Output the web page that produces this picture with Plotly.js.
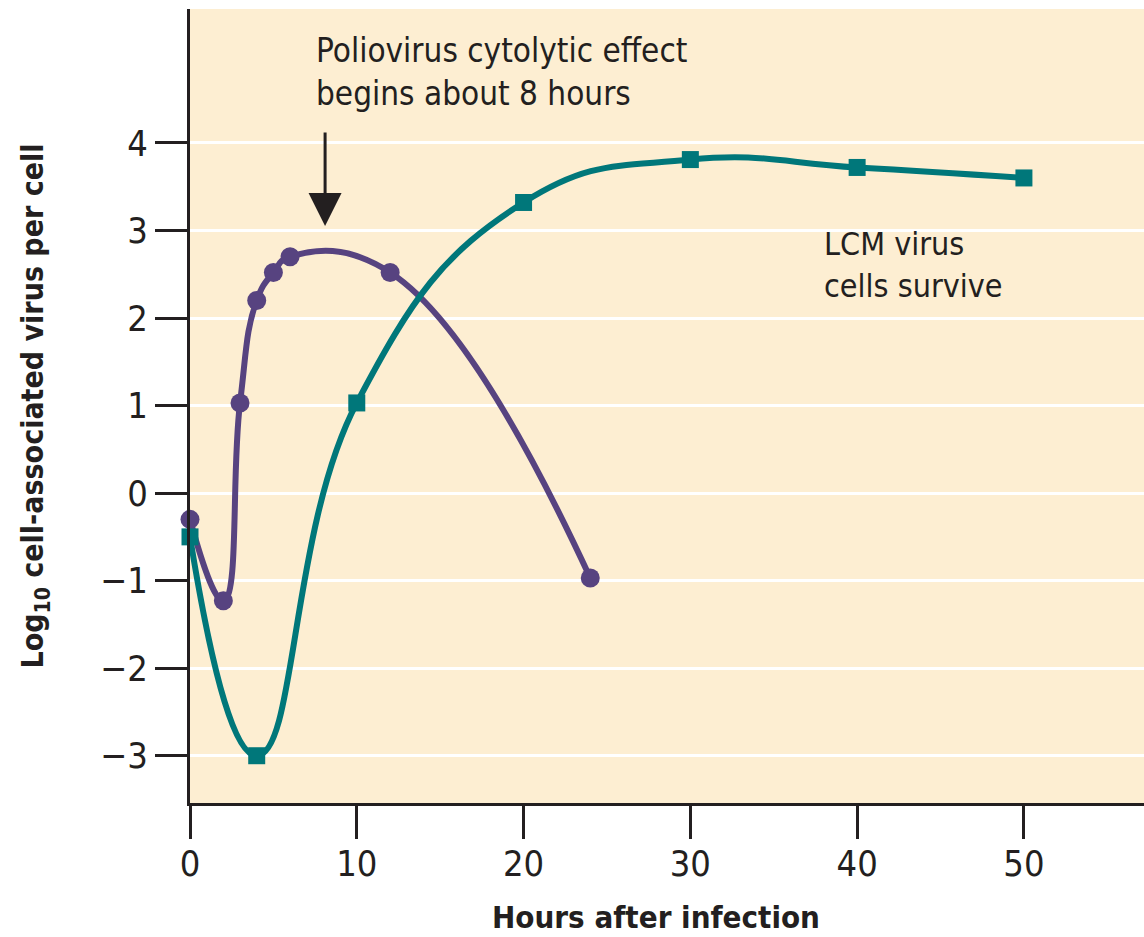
<!DOCTYPE html>
<html>
<head>
<meta charset="utf-8">
<script src="https://cdn.plot.ly/plotly-3.0.1.min.js"></script>
<style>html,body{margin:0;padding:0;background:#fff;}#chart{width:1144px;height:937px;}</style>
</head>
<body>
<div id="chart"></div>
<script>
// Data
const polioHours = [0, 2, 3, 4, 5, 6, 12, 24];
const polioLog = [-0.3, -1.23, 1.03, 2.2, 2.52, 2.7, 2.52, -0.97];
const lcmHours = [0, 4, 10, 20, 30, 40, 50];
const lcmLog = [-0.5, -3.0, 1.03, 3.32, 3.81, 3.72, 3.6];
const xTicks = [0, 10, 20, 30, 40, 50];
const yTicks = [-3, -2, -1, 0, 1, 2, 3, 4];

const FONT = '"Liberation Sans Narrow", "Arial Narrow", "DejaVu Sans Condensed", sans-serif';
const PURPLE = '#574380';
const TEAL = '#00777a';
const INK = '#231f20';

const traces = [
  {
    x: polioHours, y: polioLog, type: 'scatter', mode: 'lines+markers',
    line: {color: PURPLE, width: 6, shape: 'spline', smoothing: 1.3},
    marker: {color: PURPLE, size: 19, symbol: 'circle'},
    cliponaxis: false, hoverinfo: 'skip'
  },
  {
    x: lcmHours, y: lcmLog, type: 'scatter', mode: 'lines+markers',
    line: {color: TEAL, width: 6, shape: 'spline', smoothing: 1.3},
    marker: {color: TEAL, size: 17, symbol: 'square'},
    cliponaxis: false, hoverinfo: 'skip'
  }
];

const layout = {
  width: 1144, height: 937,
  margin: {l: 190, r: 0, t: 9, b: 134},
  paper_bgcolor: '#ffffff',
  plot_bgcolor: '#fdeed2',
  showlegend: false,
  font: {family: FONT, color: INK, size: 36},
  xaxis: {
    range: [0, 57.2], tickvals: xTicks, ticktext: xTicks.map(String),
    showgrid: false, zeroline: false,
    showline: true, linecolor: INK, linewidth: 3,
    ticks: 'outside', ticklen: 33, tickwidth: 3, tickcolor: INK,
    ticklabelstandoff: -6,
    tickfont: {family: FONT, size: 36, color: INK}
  },
  yaxis: {
    range: [-3.54, 5.53], tickvals: yTicks, ticktext: yTicks.map(v => v < 0 ? '\u2212' + Math.abs(v) : String(v)),
    showgrid: true, gridcolor: '#ffffff', gridwidth: 3, zeroline: false,
    showline: true, linecolor: INK, linewidth: 3,
    ticks: 'outside', ticklen: 32, tickwidth: 3, tickcolor: INK,
    tickfont: {family: FONT, size: 36, color: INK}
  },
  annotations: [
    {
      xref: 'x', yref: 'y', x: 8.1, y: 3.05, text: '', showarrow: true,
      ax: 0, ay: -95, arrowhead: 2, arrowsize: 2.2, arrowwidth: 3, arrowcolor: INK
    },
    {
      xref: 'x', yref: 'paper', x: 7.45, y: 0.975, xanchor: 'left', yanchor: 'top', align: 'left',
      text: 'Poliovirus cytolytic effect<br>begins about 8 hours', showarrow: false,
      font: {family: FONT, size: 33, color: INK}
    },
    {
      xref: 'x', yref: 'y', x: 37.9, y: 3.08, xanchor: 'left', yanchor: 'top', align: 'left',
      text: 'LCM virus<br>cells survive', showarrow: false,
      font: {family: FONT, size: 32, color: INK}
    },
    {
      xref: 'paper', yref: 'paper', x: 0.488, y: -0.169, xanchor: 'center', yanchor: 'bottom',
      text: '<b>Hours after infection</b>', showarrow: false,
      font: {family: FONT, size: 31, color: INK}
    },
    {
      xref: 'paper', yref: 'paper', x: -0.163, y: 0.5, xanchor: 'center', yanchor: 'middle', textangle: -90,
      text: '<b>Log<sub>10</sub> cell-associated virus per cell</b>', showarrow: false,
      font: {family: FONT, size: 30, color: INK}
    }
  ]
};

Plotly.newPlot('chart', traces, layout, {displayModeBar: false, staticPlot: true});
</script>
</body>
</html>
